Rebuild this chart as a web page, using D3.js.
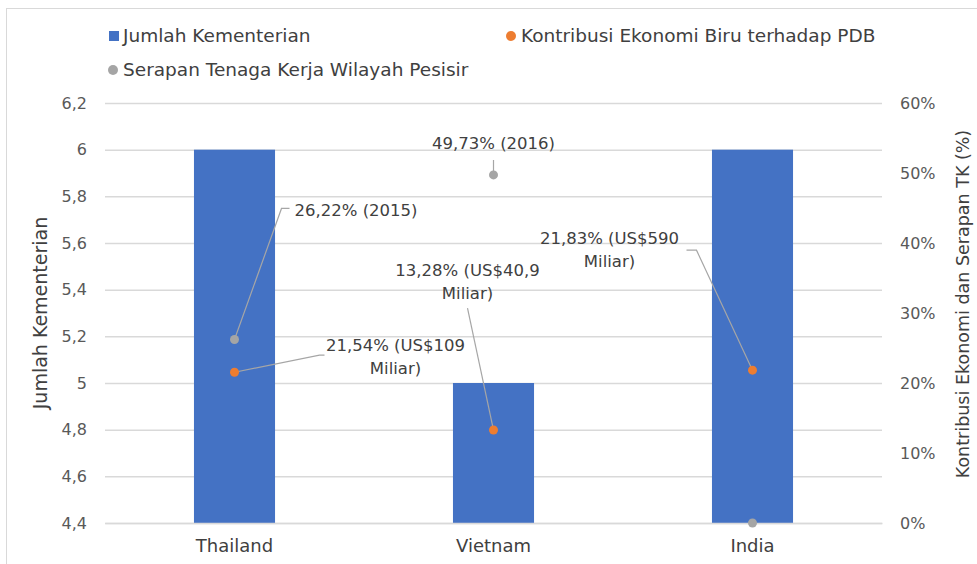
<!DOCTYPE html>
<html>
<head>
<meta charset="utf-8">
<script src="https://cdn.jsdelivr.net/npm/d3@7"></script>
<style>
  html, body { margin: 0; padding: 0; background: #fff; }
  svg { display: block; font-family: "DejaVu Sans", "Noto Sans", sans-serif; }
</style>
</head>
<body>
<svg id="chart" width="977" height="564"></svg>
<script>
// ---- data ----
const categories = ["Thailand", "Vietnam", "India"];
const jumlahKementerian = [6, 5, 6];
const kontribusiPDB = [21.54, 13.28, 21.83];      // %
const serapanTK = [26.22, 49.73, 0];              // %
const kontribusiLabels = [["21,54% (US$109", "Miliar)"], ["13,28% (US$40,9", "Miliar)"], ["21,83% (US$590", "Miliar)"]];
const serapanLabels = ["26,22% (2015)", "49,73% (2016)", null];
const leftTicks = [4.4, 4.6, 4.8, 5, 5.2, 5.4, 5.6, 5.8, 6, 6.2];
const rightTicks = [0, 10, 20, 30, 40, 50, 60];
const seriesNames = ["Jumlah Kementerian", "Kontribusi Ekonomi Biru terhadap PDB", "Serapan Tenaga Kerja Wilayah Pesisir"];
const leftTitle = "Jumlah Kementerian";
const rightTitle = "Kontribusi Ekonomi dan Serapan TK (%)";

// ---- styles / layout ----
const colors = { bar: "#4472C4", pdb: "#ED7D31", tk: "#A5A5A5", grid: "#D9D9D9", text: "#404040", tick: "#595959", leader: "#A6A6A6" };
const plot = { left: 105, right: 882, top: 103, bottom: 523 };

// label layout (pixel offsets relative to the point): text anchor point, leader path
const serapanLayout = [
  { tx: 60, ty: -129, anchor: "start", leader: [[47, -131], [55, -131]] },
  { tx: 0, ty: -32, anchor: "middle", leader: [[0, -15], [0, -5]] },
  null
];
const pdbLayout = [
  { tx: 161, ty: -27, anchor: "middle", leader: [[85, -17], [90, -17]] },
  { tx: -26, ty: -160, anchor: "middle", leader: [[-26, -122]] },
  { tx: -143, ty: -132, anchor: "middle", leader: [[-56, -120], [-66, -120]] }
];

const svg = d3.select("#chart");
const loc = d3.formatLocale({ decimal: ",", thousands: ".", grouping: [3], currency: ["", ""] });
const fmtLeft = loc.format(".1~f");
const fmtRight = v => loc.format(".0f")(v) + "%";

const x = d3.scaleBand().domain(categories).range([plot.left, plot.right]).padding(0);
const yL = d3.scaleLinear().domain([4.4, 6.2]).range([plot.bottom, plot.top]);
const yR = d3.scaleLinear().domain([0, 60]).range([plot.bottom, plot.top]);
const barW = x.bandwidth() * 0.313;

// outer border
svg.append("rect").attr("x", 6.5).attr("y", 8.5).attr("width", 1000).attr("height", 600)
  .attr("fill", "none").attr("stroke", "#D9D9D9").attr("stroke-width", 1);

// gridlines (left axis)
const gL = svg.append("g").attr("transform", `translate(${plot.left},0)`)
  .call(d3.axisLeft(yL).tickValues(leftTicks).tickFormat(fmtLeft).tickSize(-(plot.right - plot.left)).tickPadding(18));
gL.select(".domain").remove();
gL.selectAll(".tick line").attr("stroke", colors.grid).attr("stroke-width", 1.5);
gL.selectAll(".tick text").attr("fill", colors.tick).style("font-size", "16px").style("font-family", "DejaVu Sans");

// right axis
const gR = svg.append("g").attr("transform", `translate(${plot.right},0)`)
  .call(d3.axisRight(yR).tickValues(rightTicks).tickFormat(fmtRight).tickSize(0).tickPadding(18));
gR.select(".domain").remove();
gR.selectAll(".tick text").attr("fill", colors.tick).style("font-size", "16px").style("font-family", "DejaVu Sans");

// bars
svg.append("g").selectAll("rect").data(categories).join("rect")
  .attr("x", (d) => x(d) + x.bandwidth() / 2 - barW / 2)
  .attr("width", barW)
  .attr("y", (d, i) => yL(jumlahKementerian[i]))
  .attr("height", (d, i) => yL(4.4) - yL(jumlahKementerian[i]))
  .attr("fill", colors.bar);

// x axis line + labels
const gX = svg.append("g").attr("transform", `translate(0,${plot.bottom})`)
  .call(d3.axisBottom(x).tickSize(0).tickPadding(16));
gX.select(".domain").attr("stroke", colors.grid).attr("stroke-width", 1.5);
gX.selectAll(".tick text").attr("fill", colors.text).style("font-size", "18px").style("font-family", "DejaVu Sans");

// leader lines and labels
function drawLabels(values, labels, layout) {
  categories.forEach((c, i) => {
    const L = layout[i];
    if (!L || !labels[i]) return;
    const px = x(c) + x.bandwidth() / 2, py = yR(values[i]);
    const pts = [[px, py]].concat(L.leader.map(p => [px + p[0], py + p[1]]));
    svg.append("path").attr("d", d3.line()(pts)).attr("fill", "none").attr("stroke", colors.leader).attr("stroke-width", 1.2);
    const lines = Array.isArray(labels[i]) ? labels[i] : [labels[i]];
    const t = svg.append("text").attr("text-anchor", L.anchor).attr("fill", colors.text).style("font-size", "16.5px");
    lines.forEach((ln, k) => {
      t.append("tspan").attr("x", px + L.tx).attr("y", py + L.ty + k * 23).attr("dy", "0.35em").text(ln);
    });
  });
}
drawLabels(serapanTK, serapanLabels, serapanLayout);
drawLabels(kontribusiPDB, kontribusiLabels, pdbLayout);

// points
svg.append("g").selectAll("circle").data(categories).join("circle")
  .attr("cx", d => x(d) + x.bandwidth() / 2).attr("cy", (d, i) => yR(serapanTK[i])).attr("r", 4.5).attr("fill", colors.tk);
svg.append("g").selectAll("circle").data(categories).join("circle")
  .attr("cx", d => x(d) + x.bandwidth() / 2).attr("cy", (d, i) => yR(kontribusiPDB[i])).attr("r", 4.5).attr("fill", colors.pdb);

// axis titles
svg.append("text").attr("transform", `translate(47,${(plot.top + plot.bottom) / 2}) rotate(-90)`)
  .attr("text-anchor", "middle").attr("fill", colors.text).style("font-size", "19px").text(leftTitle);
svg.append("text").attr("transform", `translate(957,${(plot.top + plot.bottom) / 2 - 9}) rotate(-90)`)
  .attr("text-anchor", "middle").attr("dy", "0.7em").attr("fill", colors.text).style("font-size", "17.5px").text(rightTitle);

// legend
const leg = svg.append("g").style("font-size", "18.5px").attr("fill", colors.text);
leg.append("rect").attr("x", 109).attr("y", 31).attr("width", 10).attr("height", 10).attr("fill", colors.bar);
leg.append("text").attr("x", 123).attr("y", 36).attr("dy", "0.35em").text(seriesNames[0]);
leg.append("circle").attr("cx", 511).attr("cy", 36).attr("r", 5).attr("fill", colors.pdb);
leg.append("text").attr("x", 521).attr("y", 36).attr("dy", "0.35em").text(seriesNames[1]);
leg.append("circle").attr("cx", 113).attr("cy", 70).attr("r", 5).attr("fill", colors.tk);
leg.append("text").attr("x", 123).attr("y", 70).attr("dy", "0.35em").text(seriesNames[2]);
</script>
</body>
</html>
